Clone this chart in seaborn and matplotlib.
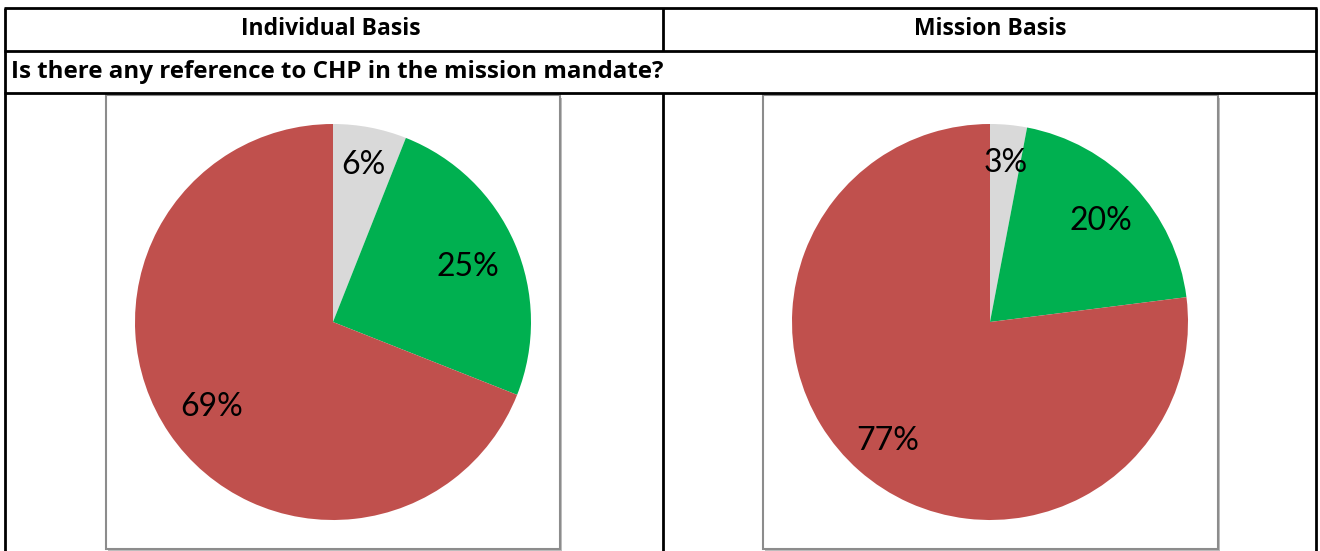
import matplotlib
matplotlib.use("Agg")
import matplotlib.pyplot as plt
import seaborn as sns
from matplotlib.lines import Line2D
from matplotlib.patches import Rectangle
import numpy as np

# ---- data ----
col_titles = ["Individual Basis", "Mission Basis"]
question = "Is there any reference to CHP in the mission mandate?"
categories = ["Don't know", "Yes", "No"]
individual_values = [6, 25, 69]
mission_values = [3, 20, 77]

sns.set_theme(style="white")
plt.rcParams['font.family'] = ['Lato', 'DejaVu Sans']

colors = ["#D9D9D9", "#00B050", "#C0504D"]
header_font = ['Open Sans', 'DejaVu Sans']

W, H = 1320, 551
fig = plt.figure(figsize=(W / 100, H / 100), dpi=100)
fig.patch.set_facecolor("white")

def fx(x):
    return x / W

def fy(y):
    return 1 - y / H

def hline(x0, x1, y, lw=2.0, color="black"):
    fig.add_artist(Line2D([fx(x0), fx(x1)], [fy(y), fy(y)], color=color, lw=lw,
                          transform=fig.transFigure, solid_capstyle="butt", zorder=5))

def vline(x, y0, y1, lw=2.0, color="black"):
    fig.add_artist(Line2D([fx(x), fx(x)], [fy(y0), fy(y1)], color=color, lw=lw,
                          transform=fig.transFigure, solid_capstyle="butt", zorder=5))

# table grid
hline(4, 1317, 8)
hline(4, 1317, 51)
hline(4, 1317, 93)
vline(5, 8, 560)
vline(1316, 8, 560)
vline(663, 8, 51)
vline(663, 93, 560)

# headers
fig.text(fx(331), fy(29), col_titles[0], ha="center", va="center",
         fontsize=16.5, fontweight="bold", color="black", family=header_font)
fig.text(fx(990), fy(29), col_titles[1], ha="center", va="center",
         fontsize=16.5, fontweight="bold", color="black", family=header_font)
fig.text(fx(11), fy(72), question, ha="left", va="center",
         fontsize=17.4, fontweight="bold", color="black", family=header_font)

# chart boxes (behind the pies)
for (x0, x1) in [(106, 560), (763, 1218)]:
    fig.add_artist(Rectangle((fx(x0 + 1.5), fy(550.5)), fx(x1 - x0), (549 - 96) / H,
                             transform=fig.transFigure, facecolor="#BFBFBF",
                             edgecolor="none", zorder=-3))
    fig.add_artist(Rectangle((fx(x0), fy(549)), fx(x1 - x0), (549 - 95) / H,
                             transform=fig.transFigure, facecolor="white",
                             edgecolor="#8C8C8C", lw=1.5, zorder=-2))

def draw_pie(cx, cy, r, values, dists):
    ax = fig.add_axes([fx(cx - r), fy(cy + r), (2 * r) / W, (2 * r) / H])
    ax.set_zorder(1)
    ax.patch.set_alpha(0)
    wedges, _ = ax.pie(values, colors=colors, startangle=90, counterclock=False,
                       radius=1.0, wedgeprops=dict(linewidth=0))
    for w, v, d in zip(wedges, values, dists):
        mid = np.deg2rad((w.theta1 + w.theta2) / 2)
        ax.text(d * np.cos(mid), d * np.sin(mid) - 0.015, f"{v}%", ha="center",
                va="center", fontsize=23, color="black")
    ax.set_xlim(-1, 1)
    ax.set_ylim(-1, 1)
    ax.set_aspect("equal")
    ax.axis("off")
    return ax

draw_pie(333, 322, 198, individual_values, [0.82, 0.74, 0.74])
draw_pie(990, 322, 198, mission_values, [0.82, 0.77, 0.78])

fig.savefig("out.png", dpi=100, facecolor="white")
